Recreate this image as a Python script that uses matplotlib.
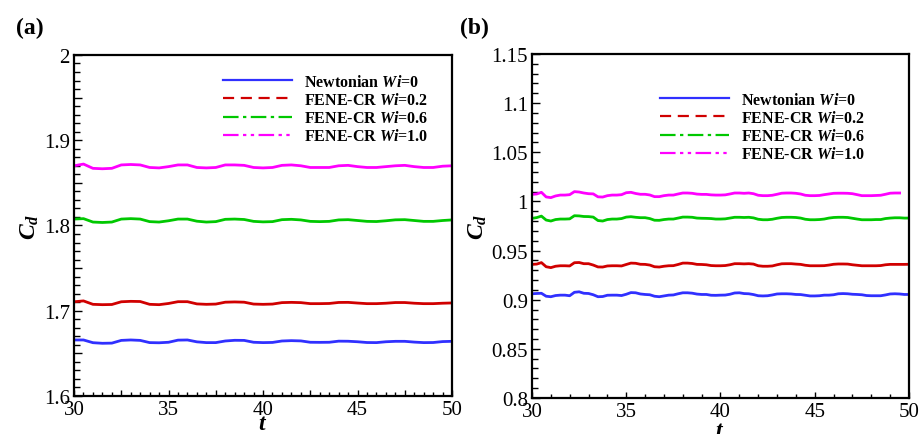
import numpy as np
import matplotlib
matplotlib.use("Agg")
import matplotlib.pyplot as plt
from matplotlib.lines import Line2D
from matplotlib.ticker import MultipleLocator, FuncFormatter

plt.rcParams['font.family'] = ['Liberation Serif', 'DejaVu Serif']
plt.rcParams['mathtext.fontset'] = 'custom'
plt.rcParams['mathtext.rm'] = 'Liberation Serif'
plt.rcParams['mathtext.it'] = 'Liberation Serif:italic'
plt.rcParams['mathtext.bf'] = 'Liberation Serif:bold'
plt.rcParams['mathtext.bfit'] = 'Liberation Serif:bold:italic'

# ---- data ----
labels = ['Newtonian $\\mathbfit{Wi}$=0', 'FENE-CR $\\mathbfit{Wi}$=0.2',
          'FENE-CR $\\mathbfit{Wi}$=0.6', 'FENE-CR $\\mathbfit{Wi}$=1.0']
colors = ['#3030ff', '#d00000', '#00c800', '#ff00ff']
styles = ['-', (0, (5, 3)), (0, (7, 2, 1.5, 2)), (0, (7, 2, 1.5, 2, 1.5, 2))]

# panel (a), t = 30 .. 50 step 0.5
t_a = np.arange(30, 50.01, 0.5)
cd_a_newt = [1.6657, 1.6657, 1.6625, 1.6618, 1.6620, 1.6652, 1.6657, 1.6652, 1.6626, 1.6624,
             1.6630, 1.6655, 1.6657, 1.6635, 1.6626, 1.6626, 1.6645, 1.6653, 1.6652, 1.6630,
             1.6626, 1.6628, 1.6645, 1.6649, 1.6646, 1.6630, 1.6629, 1.6630, 1.6643, 1.6642,
             1.6636, 1.6627, 1.6626, 1.6636, 1.6641, 1.6641, 1.6632, 1.6626, 1.6627, 1.6638,
             1.6641]
cd_a_wi02 = [1.7105, 1.7115, 1.7075, 1.7071, 1.7073, 1.7105, 1.7110, 1.7108, 1.7075, 1.7071,
             1.7085, 1.7106, 1.7106, 1.7080, 1.7075, 1.7078, 1.7100, 1.7103, 1.7100, 1.7078,
             1.7075, 1.7078, 1.7095, 1.7098, 1.7095, 1.7083, 1.7083, 1.7085, 1.7097, 1.7098,
             1.7090, 1.7083, 1.7083, 1.7088, 1.7096, 1.7096, 1.7088, 1.7083, 1.7083, 1.7088,
             1.7091]
cd_a_wi06 = [1.8075, 1.8080, 1.8040, 1.8035, 1.8040, 1.8075, 1.8080, 1.8075, 1.8045, 1.8040,
             1.8055, 1.8075, 1.8075, 1.8050, 1.8040, 1.8045, 1.8072, 1.8075, 1.8070, 1.8048,
             1.8042, 1.8045, 1.8068, 1.8072, 1.8065, 1.8048, 1.8045, 1.8048, 1.8065, 1.8068,
             1.8058, 1.8048, 1.8046, 1.8055, 1.8066, 1.8068, 1.8058, 1.8048, 1.8048, 1.8058,
             1.8065]
cd_a_wi10 = [1.8700, 1.8720, 1.8670, 1.8665, 1.8670, 1.8710, 1.8715, 1.8710, 1.8680, 1.8675,
             1.8690, 1.8710, 1.8710, 1.8680, 1.8675, 1.8680, 1.8710, 1.8710, 1.8705, 1.8680,
             1.8675, 1.8680, 1.8705, 1.8710, 1.8700, 1.8680, 1.8680, 1.8680, 1.8700, 1.8705,
             1.8690, 1.8680, 1.8680, 1.8690, 1.8700, 1.8705, 1.8690, 1.8680, 1.8680, 1.8695,
             1.8700]

# panel (b), t = 30 .. 50 step 0.25
t_b = np.arange(30, 50.01, 0.25)
cd_b_newt = [0.9060, 0.9063, 0.9065, 0.9035, 0.9030, 0.9042, 0.9046, 0.9046, 0.9040, 0.9075,
             0.9080, 0.9065, 0.9063, 0.9050, 0.9030, 0.9032, 0.9045, 0.9046, 0.9046, 0.9042,
             0.9055, 0.9072, 0.9070, 0.9058, 0.9053, 0.9050, 0.9035, 0.9030, 0.9038, 0.9046,
             0.9048, 0.9060, 0.9070, 0.9070, 0.9066, 0.9057, 0.9053, 0.9053, 0.9045, 0.9044,
             0.9046, 0.9047, 0.9055, 0.9068, 0.9070, 0.9062, 0.9060, 0.9052, 0.9040, 0.9038,
             0.9040, 0.9048, 0.9058, 0.9060, 0.9060, 0.9058, 0.9053, 0.9052, 0.9045, 0.9038,
             0.9038, 0.9040, 0.9046, 0.9046, 0.9050, 0.9060, 0.9062, 0.9060, 0.9055, 0.9053,
             0.9050, 0.9042, 0.9040, 0.9040, 0.9040, 0.9048, 0.9058, 0.9060, 0.9058, 0.9053,
             0.9053]
cd_b_wi02 = [0.9359, 0.9362, 0.9377, 0.9335, 0.9326, 0.9340, 0.9345, 0.9345, 0.9343, 0.9376,
             0.9378, 0.9366, 0.9366, 0.9352, 0.9333, 0.9332, 0.9343, 0.9345, 0.9345, 0.9343,
             0.9358, 0.9372, 0.9370, 0.9360, 0.9359, 0.9352, 0.9335, 0.9332, 0.9340, 0.9345,
             0.9346, 0.9358, 0.9372, 0.9372, 0.9368, 0.9359, 0.9358, 0.9355, 0.9347, 0.9345,
             0.9345, 0.9347, 0.9355, 0.9366, 0.9366, 0.9364, 0.9366, 0.9362, 0.9345, 0.9340,
             0.9340, 0.9343, 0.9355, 0.9365, 0.9366, 0.9366, 0.9362, 0.9359, 0.9350, 0.9345,
             0.9345, 0.9345, 0.9346, 0.9352, 0.9360, 0.9363, 0.9363, 0.9362, 0.9355, 0.9350,
             0.9345, 0.9345, 0.9345, 0.9345, 0.9347, 0.9355, 0.9359, 0.9359, 0.9359, 0.9359,
             0.9360]
cd_b_wi06 = [0.9827, 0.9835, 0.9850, 0.9810, 0.9800, 0.9815, 0.9820, 0.9820, 0.9822, 0.9854,
             0.9852, 0.9846, 0.9845, 0.9840, 0.9805, 0.9800, 0.9815, 0.9820, 0.9820, 0.9825,
             0.9840, 0.9844, 0.9838, 0.9834, 0.9834, 0.9825, 0.9808, 0.9807, 0.9815, 0.9820,
             0.9820, 0.9830, 0.9840, 0.9840, 0.9838, 0.9830, 0.9828, 0.9827, 0.9825, 0.9820,
             0.9820, 0.9822, 0.9830, 0.9838, 0.9838, 0.9836, 0.9838, 0.9832, 0.9818, 0.9813,
             0.9813, 0.9818, 0.9828, 0.9836, 0.9838, 0.9838, 0.9836, 0.9830, 0.9818, 0.9813,
             0.9813, 0.9815, 0.9820, 0.9830, 0.9836, 0.9838, 0.9838, 0.9836, 0.9828, 0.9820,
             0.9813, 0.9813, 0.9813, 0.9815, 0.9815, 0.9825, 0.9830, 0.9833, 0.9833, 0.9830,
             0.9830]
cd_b_wi10 = [1.0071, 1.0075, 1.0092, 1.0045, 1.0038, 1.0055, 1.0064, 1.0064, 1.0068, 1.0099,
             1.0095, 1.0085, 1.0078, 1.0076, 1.0046, 1.0044, 1.0058, 1.0064, 1.0064, 1.0068,
             1.0088, 1.0092, 1.0080, 1.0072, 1.0072, 1.0065, 1.0048, 1.0048, 1.0058, 1.0064,
             1.0064, 1.0075, 1.0085, 1.0085, 1.0082, 1.0074, 1.0071, 1.0071, 1.0066, 1.0064,
             1.0064, 1.0066, 1.0075, 1.0085, 1.0085, 1.0082, 1.0085, 1.0078, 1.0062, 1.0058,
             1.0058, 1.0062, 1.0072, 1.0083, 1.0085, 1.0085, 1.0082, 1.0075, 1.0062, 1.0058,
             1.0058, 1.0060, 1.0068, 1.0075, 1.0082, 1.0083, 1.0083, 1.0082, 1.0078, 1.0068,
             1.0058, 1.0058, 1.0058, 1.0060, 1.0062, 1.0072, 1.0083, 1.0085, 1.0085]

series_a = [cd_a_newt, cd_a_wi02, cd_a_wi06, cd_a_wi10]
series_b = [cd_b_newt, cd_b_wi02, cd_b_wi06, cd_b_wi10]


def every(step):
    # label only the ticks that are multiples of step
    def f(v, pos):
        if abs(v / step - round(v / step)) < 1e-6:
            return '%g' % round(v, 4)
        return ''
    return FuncFormatter(f)


def style_axes(ax):
    for s in ax.spines.values():
        s.set_linewidth(1.6)
    ax.tick_params(which='both', direction='in', top=False, right=False,
                   labelsize=15, width=1.0, pad=3)
    ax.tick_params(axis='y', which='major', length=6)
    ax.tick_params(axis='y', which='minor', length=4)
    ax.tick_params(axis='x', which='major', length=4.5)
    ax.tick_params(axis='x', which='minor', length=2.7)


fig = plt.figure(figsize=(9.22, 4.35), dpi=100)
ax1 = fig.add_axes([0.0803, 0.0874, 0.41, 0.784])
ax2 = fig.add_axes([0.577, 0.0828, 0.4089, 0.791])

for y, c in zip(series_a, colors):
    ax1.plot(t_a, y, color=c, lw=2.0)
for y, c in zip(series_b, colors):
    ax2.plot(t_b[:len(y)], y, color=c, lw=2.0)

ax1.set_xlim(30, 50)
ax1.set_ylim(1.6, 2.0)
ax1.xaxis.set_major_locator(MultipleLocator(2.5))
ax1.xaxis.set_major_formatter(every(5))
ax1.xaxis.set_minor_locator(MultipleLocator(0.5))
ax1.yaxis.set_major_locator(MultipleLocator(0.05))
ax1.yaxis.set_major_formatter(every(0.1))
ax1.yaxis.set_minor_locator(MultipleLocator(0.01))

ax2.set_xlim(30, 50)
ax2.set_ylim(0.8, 1.15)
ax2.xaxis.set_major_locator(MultipleLocator(5))
ax2.xaxis.set_major_formatter(FuncFormatter(lambda v, p: '%g' % v))
ax2.xaxis.set_minor_locator(MultipleLocator(1))
ax2.yaxis.set_major_locator(MultipleLocator(0.05))
ax2.yaxis.set_major_formatter(FuncFormatter(lambda v, p: '%g' % round(v, 3)))
ax2.yaxis.set_minor_locator(MultipleLocator(0.01))

for ax in (ax1, ax2):
    style_axes(ax)
    ax.set_ylabel('$\\mathbfit{C_d}$', fontsize=17, labelpad=2)

fig.text(263 / 922, 1 - 425 / 435, '$\\mathbfit{t}$', fontsize=17, ha='center', va='center')
fig.text(720 / 922, 1 - 432 / 435, '$\\mathbfit{t}$', fontsize=17, ha='center', va='center')

fig.text(30 / 922, 1 - 28 / 435, '(a)', fontsize=17, fontweight='bold', ha='center', va='center')
fig.text(474 / 922, 1 - 28 / 435, '(b)', fontsize=17, fontweight='bold', ha='center', va='center')

handles = [Line2D([], [], color=c, ls=s, lw=1.6) for c, s in zip(colors, styles)]
leg_kw = dict(frameon=False, prop={'weight': 'bold', 'size': 11.5},
              handlelength=4.3, handletextpad=0.75, labelspacing=0.13,
              borderpad=0, borderaxespad=0, loc='upper left')
ax1.legend(handles, labels, bbox_to_anchor=(223 / 922, 1 - 75 / 435),
           bbox_transform=fig.transFigure, **leg_kw)
ax2.legend(handles, labels, bbox_to_anchor=(660 / 922, 1 - 93 / 435),
           bbox_transform=fig.transFigure, **leg_kw)

fig.savefig('out.png', dpi=100)
